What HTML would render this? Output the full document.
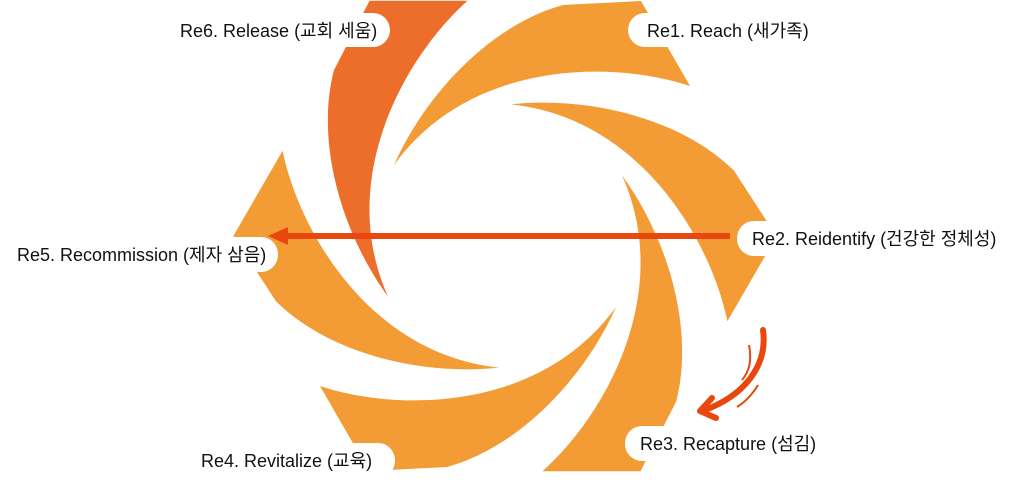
<!DOCTYPE html>
<html><head><meta charset="utf-8"><style>
html,body{margin:0;padding:0;background:#fff;overflow:hidden;}
svg{display:block}
text{font-family:"Liberation Sans","Noto Sans CJK KR",sans-serif;font-size:18px;fill:#111;}
</style></head><body>
<svg width="1024" height="484" viewBox="0 0 1024 484" xmlns="http://www.w3.org/2000/svg">
<defs>
<path id="b" d="M394,165 C425,95 490,25 563,5 L641,1 L690,86 C612,60 470,60 394,165 Z"/>
</defs>
<g fill="#F39B34">
<use href="#b"/>
<use href="#b" transform="rotate(60 505 236)"/>
<use href="#b" transform="rotate(120 505 236)"/>
<use href="#b" transform="rotate(180 505 236)"/>
<use href="#b" transform="rotate(240 505 236)"/>
</g>
<use href="#b" fill="#EC6E2A" transform="rotate(-60 505 236)"/>
<line x1="730" y1="236" x2="284" y2="236" stroke="#E8470F" stroke-width="6"/>
<polygon points="268,236 288,227 288,245" fill="#E8470F"/>
<path d="M763,330 C768,365 745,395 705,410" fill="none" stroke="#E8470F" stroke-width="6" stroke-linecap="round"/>
<path d="M712,398 L700,411 L716,418" fill="none" stroke="#E8470F" stroke-width="6" stroke-linecap="round" stroke-linejoin="round"/>
<path d="M749,345 C752,360 749,372 742,380" fill="none" stroke="#E8470F" stroke-width="2"/>
<path d="M758,385 C752,395 745,402 737,407" fill="none" stroke="#E8470F" stroke-width="2"/>
<g fill="#fff">
<rect x="170" y="13" width="220" height="34" rx="17"/>
<rect x="628" y="13" width="185" height="34" rx="17"/>
<rect x="737" y="221" width="275" height="35" rx="17"/>
<rect x="8" y="237" width="270" height="35" rx="17"/>
<rect x="190" y="443" width="205" height="35" rx="17"/>
<rect x="625" y="426" width="192" height="35" rx="17"/>
</g>
<text x="180" y="37">Re6. Release (교회 세움)</text>
<text x="647" y="37">Re1. Reach (새가족)</text>
<text x="752" y="245">Re2. Reidentify (건강한 정체성)</text>
<text x="17" y="261">Re5. Recommission (제자 삼음)</text>
<text x="201" y="467">Re4. Revitalize (교육)</text>
<text x="640" y="450">Re3. Recapture (섬김)</text>
</svg>
</body></html>
